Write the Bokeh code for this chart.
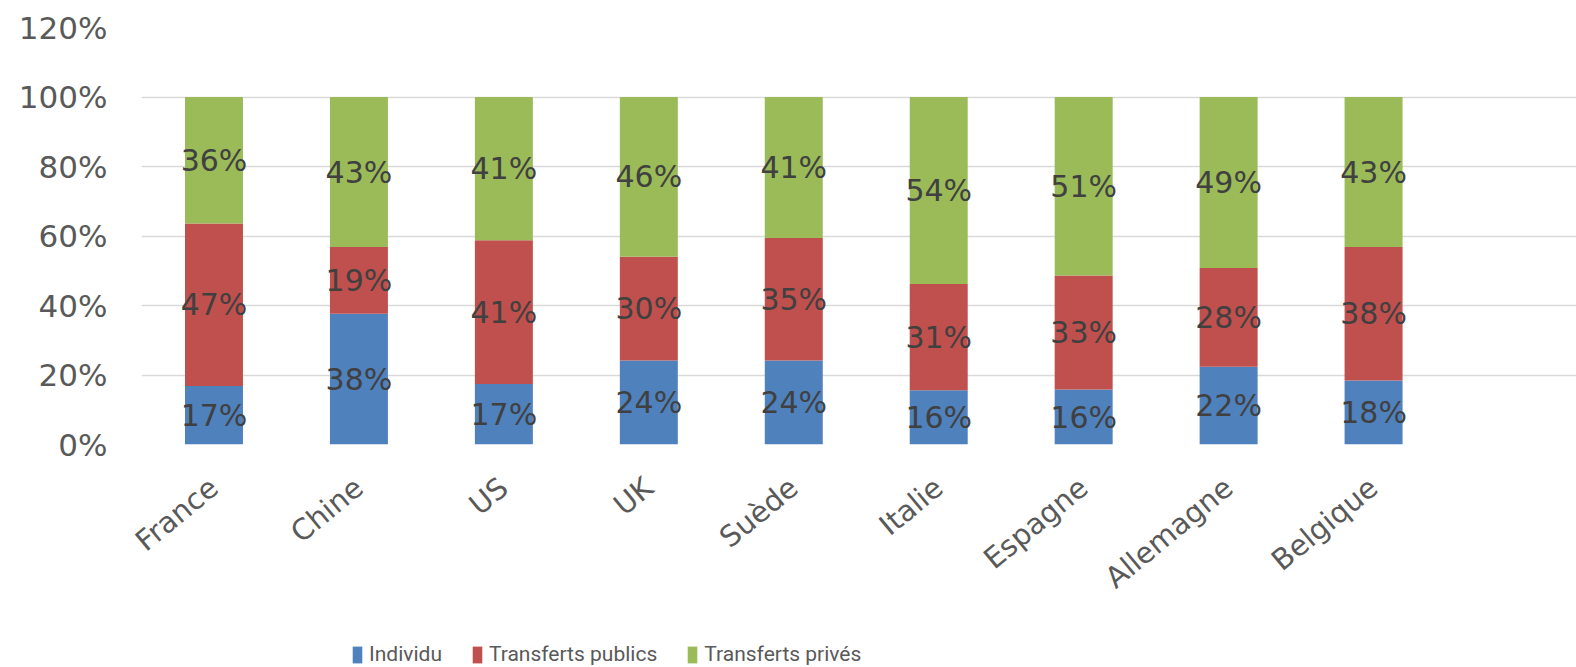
from bokeh.plotting import figure
from bokeh.layouts import column
from bokeh.models import (ColumnDataSource, Range1d, FixedTicker, Legend, LegendItem,
                          CustomJSTickFormatter)
from bokeh.core.properties import value
from bokeh.embed import file_html
from bokeh.resources import INLINE

countries = ["France", "Chine", "US", "UK", "Suède", "Italie", "Espagne", "Allemagne", "Belgique"]
individu = [16.8, 37.6, 17.4, 24.2, 24.2, 15.6, 15.8, 22.4, 18.4]
publics = [46.8, 19.2, 41.4, 29.8, 35.2, 30.6, 32.8, 28.4, 38.4]
prives = [36.4, 43.2, 41.2, 46.0, 40.6, 53.8, 51.4, 49.2, 43.2]
series_names = ["Individu", "Transferts publics", "Transferts privés"]
colors = ["#4f81bd", "#c0504d", "#9bbb59"]
y_ticks = [0, 20, 40, 60, 80, 100, 120]

xs = [i + 0.5 for i in range(len(countries))]
keys = ["individu", "publics", "prives"]
data = dict(x=xs, individu=individu, publics=publics, prives=prives)
source = ColumnDataSource(data)

p = figure(width=1576, height=620, output_backend="svg", toolbar_location=None,
           x_range=Range1d(0, 9.9), y_range=Range1d(0, 120),
           min_border_left=141, min_border_right=0, min_border_top=27, min_border_bottom=176)
p.outline_line_color = None
p.background_fill_color = "white"

renderers = p.vbar_stack(keys, x="x", width=0.4, source=source, color=colors, line_color=None)

# data labels
lx, ly, lt = [], [], []
for i in range(len(countries)):
    base = 0.0
    for arr in (individu, publics, prives):
        v = arr[i]
        lx.append(xs[i])
        ly.append(base + v / 2)
        lt.append(f"{round(v)}%")
        base += v
p.text(x=lx, y=ly, text=lt, text_align="center", text_baseline="middle",
       text_font=value("DejaVu Sans"), text_font_size="30px", text_color="#404040")

# axes
p.xgrid.visible = False
p.ygrid.grid_line_color = "#d9d9d9"
p.ygrid.grid_line_width = 1.5
p.yaxis.ticker = FixedTicker(ticks=y_ticks)
p.yaxis.major_label_overrides = {t: f"{t}%" for t in y_ticks}
p.yaxis.axis_line_color = None
p.yaxis.major_tick_line_color = None
p.yaxis.minor_tick_line_color = None
p.yaxis.major_label_text_font = "DejaVu Sans"
p.yaxis.major_label_text_font_size = "31px"
p.yaxis.major_label_text_color = "#595959"
p.yaxis.major_label_standoff = 28

p.xaxis.ticker = FixedTicker(ticks=xs)
p.xaxis.formatter = CustomJSTickFormatter(args=dict(labels=countries),
                                          code="const i = Math.round(tick - 0.5); return labels[i] ?? '';")
p.xaxis.axis_line_color = None
p.xaxis.major_tick_line_color = None
p.xaxis.minor_tick_line_color = None
p.xaxis.major_label_orientation = 0.69
p.xaxis.major_label_text_font = "DejaVu Sans"
p.xaxis.major_label_text_font_size = "29px"
p.xaxis.major_label_text_color = "#595959"
p.xaxis.major_label_standoff = 33

# legend strip below the chart (same series, hidden in this strip)
q = figure(width=1576, height=47, output_backend="svg", toolbar_location=None,
           x_range=Range1d(0, 9.9), y_range=Range1d(0, 120), min_border=0)
q.axis.visible = False
q.grid.visible = False
q.outline_line_color = None
legend_renderers = q.vbar_stack(keys, x="x", width=0.4, source=source, color=colors, line_color=None)
for r in legend_renderers:
    r.visible = False
legend = Legend(items=[LegendItem(label=n, renderers=[r]) for n, r in zip(series_names, legend_renderers)],
                orientation="horizontal", location=(210, 1), margin=0,
                glyph_width=12, glyph_height=21, label_standoff=6, spacing=29, padding=0,
                border_line_color=None, background_fill_alpha=0, inactive_fill_alpha=0,
                label_text_font="Roboto", label_text_font_size="21px",
                label_text_color="#595959")
q.add_layout(legend, "center")

layout = column(p, q, spacing=0)
open("out.html", "w").write(file_html(layout, INLINE))
